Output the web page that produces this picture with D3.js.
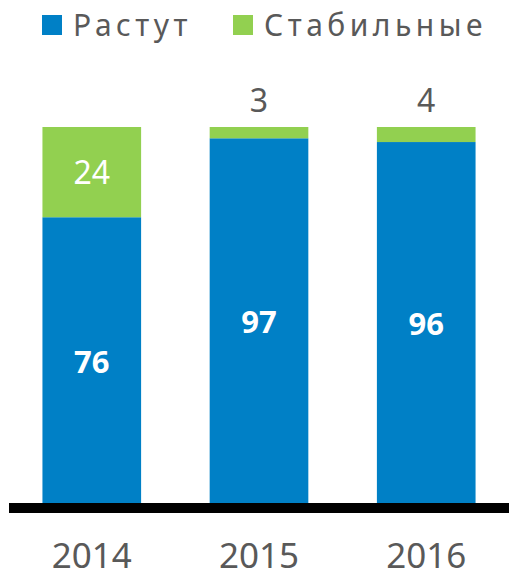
<!DOCTYPE html>
<html>
<head>
<meta charset="utf-8">
<script src="https://cdn.jsdelivr.net/npm/d3@7"></script>
<style>
  body { margin: 0; background: #fff; }
  svg { display: block; font-family: "Noto Sans", sans-serif; }
</style>
</head>
<body>
<svg id="chart" width="509" height="577"></svg>
<script>
const years = ["2014", "2015", "2016"];
const growing = [76, 97, 96];
const stable = [24, 3, 4];
const seriesNames = ["Растут", "Стабильные"];
const colours = ["#0080c6", "#92d050"];

const svg = d3.select("#chart");

const x = d3.scaleBand()
  .domain(years)
  .range([9, 509])
  .paddingInner(0.41)
  .paddingOuter(0.2);

const y = d3.scaleLinear()
  .domain([0, 100])
  .range([503, 127]);

const rows = years.map((yr, i) => ({ year: yr, growing: growing[i], stable: stable[i] }));
const stacked = d3.stack().keys(["growing", "stable"])(rows);

// bars
svg.selectAll("g.layer")
  .data(stacked)
  .join("g")
  .attr("class", "layer")
  .attr("fill", (d, i) => colours[i])
  .selectAll("rect")
  .data((d) => d)
  .join("rect")
  .attr("x", (d) => x(d.data.year))
  .attr("y", (d) => y(d[1]))
  .attr("width", x.bandwidth())
  .attr("height", (d) => y(d[0]) - y(d[1]));

// blue labels (bold white, inside)
svg.selectAll("text.grow")
  .data(stacked[0])
  .join("text")
  .attr("class", "grow")
  .attr("x", (d) => x(d.data.year) + x.bandwidth() / 2)
  .attr("y", (d) => (y(d[0]) + y(d[1])) / 2 + 4)
  .attr("text-anchor", "middle")
  .attr("dominant-baseline", "middle")
  .attr("fill", "#fff")
  .attr("font-weight", "bold")
  .attr("font-size", 31)
  .text((d) => d.data.growing);

// green labels: inside if big enough, above otherwise
svg.selectAll("text.stab")
  .data(stacked[1])
  .join("text")
  .attr("class", "stab")
  .attr("x", (d) => x(d.data.year) + x.bandwidth() / 2)
  .attr("y", (d) => d.data.stable > 10 ? (y(d[0]) + y(d[1])) / 2 + 12 : y(d[1]) - 15)
  .attr("text-anchor", "middle")
  .attr("fill", (d) => d.data.stable > 10 ? "#fff" : "#595959")
  .attr("font-size", 32)
  .text((d) => d.data.stable);

// baseline
svg.append("line")
  .attr("x1", x.range()[0])
  .attr("x2", x.range()[1])
  .attr("y1", y(0) + 5)
  .attr("y2", y(0) + 5)
  .attr("stroke", "#000")
  .attr("stroke-width", 10);

// year labels
svg.selectAll("text.year")
  .data(years)
  .join("text")
  .attr("class", "year")
  .attr("x", (d) => x(d) + x.bandwidth() / 2)
  .attr("y", 568)
  .attr("text-anchor", "middle")
  .attr("fill", "#595959")
  .attr("font-size", 35)
  .text((d) => d);

// legend
const legendX = [42, 233];
const legend = svg.selectAll("g.legend")
  .data(seriesNames)
  .join("g")
  .attr("class", "legend")
  .attr("transform", (d, i) => `translate(${legendX[i]},15)`);

legend.append("rect")
  .attr("width", 20)
  .attr("height", 20)
  .attr("fill", (d, i) => colours[i]);

legend.append("text")
  .attr("x", 31)
  .attr("y", 21)
  .attr("fill", "#595959")
  .attr("font-size", 30)
  .attr("letter-spacing", 4.5)
  .text((d) => d);
</script>
</body>
</html>
